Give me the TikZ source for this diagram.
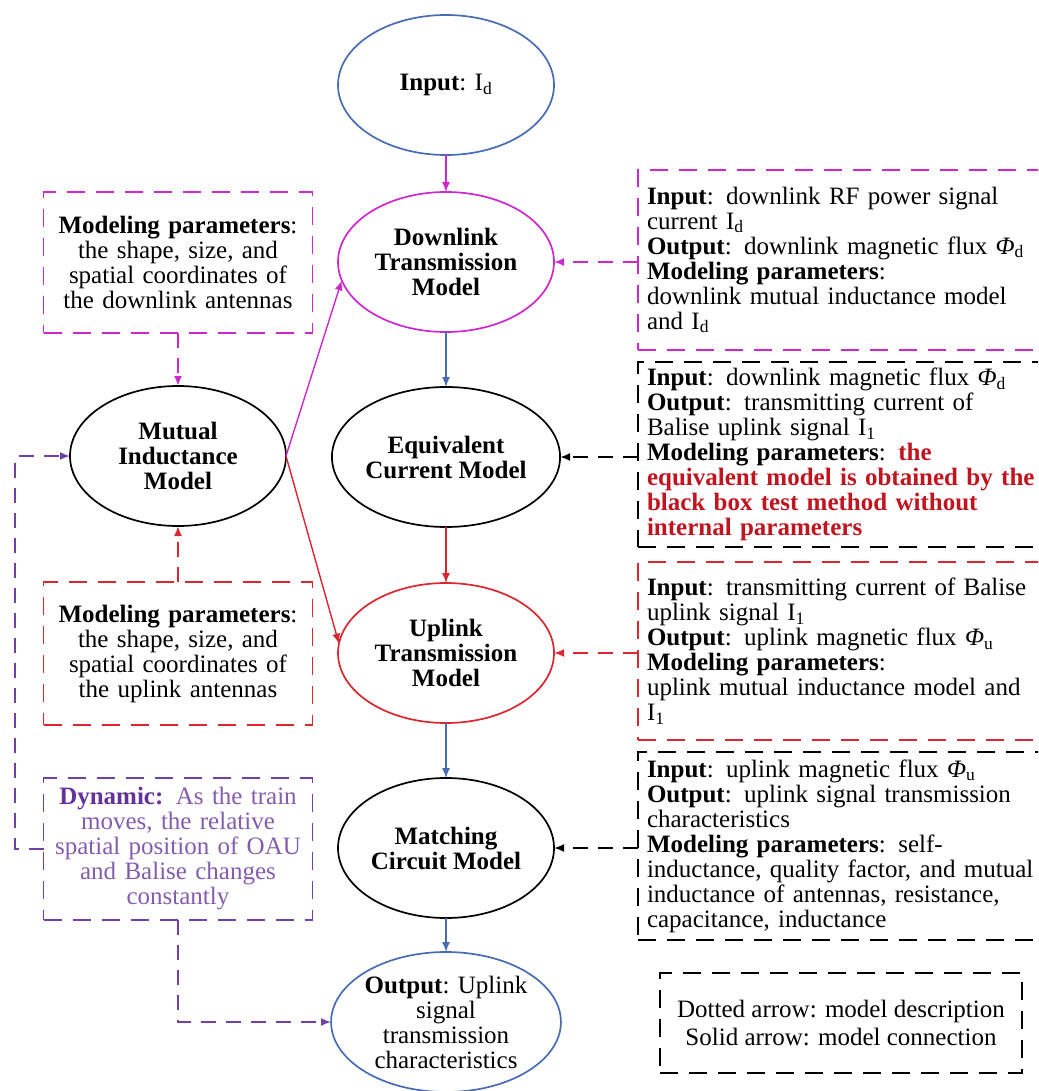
\documentclass[tikz,border=0pt]{standalone}
\usepackage{fontspec}
\setmainfont{Liberation Serif}
\usetikzlibrary{shapes.geometric,arrows.meta}

\definecolor{flowblue}{RGB}{72,108,180}
\definecolor{flowmag}{RGB}{205,40,205}
\definecolor{flowred}{RGB}{218,38,48}
\definecolor{flowpurple}{RGB}{112,64,165}
\definecolor{dynpurple}{RGB}{132,92,175}
\definecolor{dyndark}{RGB}{100,50,152}
\definecolor{textred}{RGB}{192,20,30}

\newcommand{\bodyfont}{\fontsize{25}{25}\selectfont}

\begin{document}
\begin{tikzpicture}[x=1pt,y=-1pt,
  model/.style={ellipse,draw=black,line width=1.7pt,minimum width=216pt,
    minimum height=140pt,inner sep=0pt,outer sep=0pt,align=center,
    font=\bodyfont\bfseries},
  iomodel/.style={model,draw=flowblue,font=\bodyfont},
  leftbox/.style={draw,line width=1.8pt,dash pattern=on 18pt off 11pt,
    minimum width=269pt,text width=262pt,align=center,inner sep=0pt,
    outer sep=0pt,font=\bodyfont},
  rightbox/.style={draw,line width=1.8pt,dash pattern=on 18pt off 11pt,
    anchor=west,text width=400pt,inner xsep=9pt,inner ysep=0pt,
    outer sep=0pt,align=left,font=\bodyfont},
  link/.style={line width=1.4pt,-{Latex[length=10pt,width=8pt]}},
  desc/.style={link,line width=1.8pt,dash pattern=on 15pt off 10pt},
]
\useasboundingbox (0,0) rectangle (1038,1091);
\clip (0,0) rectangle (1038,1091);

% main chain of models
\node[iomodel] (in) at (446,85) {\textbf{Input}: I\textsubscript{d}};
\node[model,draw=flowmag] (dl) at (446,262) {Downlink\\Transmission\\Model};
\node[model] (mi) at (178,456) {Mutual\\Inductance\\Model};
\node[model] (eq) at (446,457) {Equivalent\\Current Model};
\node[model,draw=flowred] (ul) at (446,653) {Uplink\\Transmission\\Model};
\node[model] (mc) at (446,848) {Matching\\Circuit Model};
\node[iomodel] (out) at (446,1022)
  {\textbf{Output}: Uplink\\signal\\transmission\\characteristics};

% parameter boxes on the left
\node[leftbox,draw=flowmag,minimum height=141pt] (dlp) at (178,262.5)
  {\textbf{Modeling parameters}:\\the shape, size, and\\spatial coordinates of\\the downlink antennas};
\node[leftbox,draw=flowred,minimum height=143pt] (ulp) at (178,653.5)
  {\textbf{Modeling parameters}:\\the shape, size, and\\spatial coordinates of\\the uplink antennas};
\node[leftbox,draw=flowpurple,minimum height=142pt,text=dynpurple] (dyn) at (178,849)
  {\textcolor{dyndark}{\textbf{Dynamic:}} As the train\\moves, the relative\\spatial position of OAU\\and Balise changes\\constantly};

% description boxes on the right
\node[rightbox,draw=flowmag,minimum height=180pt] (dld) at (638,260)
  {\textbf{Input}: downlink RF power signal\\
   current I\textsubscript{d}\\
   \textbf{Output}: downlink magnetic flux \textit{Φ}\textsubscript{d}\\
   \textbf{Modeling parameters}:\\
   downlink mutual inductance model\\
   and I\textsubscript{d}};
\node[rightbox,draw=black,minimum height=185pt] (eqd) at (638,454.5)
  {\textbf{Input}: downlink magnetic flux \textit{Φ}\textsubscript{d}\\
   \textbf{Output}: transmitting current of\\
   Balise uplink signal I\textsubscript{1}\\
   \textbf{Modeling parameters}: \textcolor{textred}{\textbf{the}}\\
   \textcolor{textred}{\textbf{equivalent model is obtained by the}}\\
   \textcolor{textred}{\textbf{black box test method without}}\\
   \textcolor{textred}{\textbf{internal parameters}}};
\node[rightbox,draw=flowred,minimum height=178pt] (uld) at (638,651)
  {\textbf{Input}: transmitting current of Balise\\
   uplink signal I\textsubscript{1}\\
   \textbf{Output}: uplink magnetic flux \textit{Φ}\textsubscript{u}\\
   \textbf{Modeling parameters}:\\
   uplink mutual inductance model and\\
   I\textsubscript{1}};
\node[rightbox,draw=black,minimum height=188pt] (mcd) at (638,846)
  {\textbf{Input}: uplink magnetic flux \textit{Φ}\textsubscript{u}\\
   \textbf{Output}: uplink signal transmission\\
   characteristics\\
   \textbf{Modeling parameters}: self-\\
   inductance, quality factor, and mutual\\
   inductance of antennas, resistance,\\
   capacitance, inductance};

% legend
\node[draw,line width=1.8pt,dash pattern=on 18pt off 11pt,minimum width=362pt,
  minimum height=100pt,align=center,font=\fontsize{25}{28}\selectfont] (key) at (841,1023)
  {Dotted arrow: model description\\Solid arrow: model connection};

% model connections
\draw[link,flowmag] (in) -- (dl);
\draw[link,flowblue] (dl) -- (eq);
\draw[link,flowred] (eq) -- (ul);
\draw[link,flowblue] (ul) -- (mc);
\draw[link,flowblue] (mc) -- (out);
\draw[link,flowmag] (mi.east) -- (dl.190);
\draw[link,flowred] (mi.east) -- (ul.175);

% model descriptions
\draw[desc,flowmag] (dlp) -- (mi);
\draw[desc,flowred] (ulp) -- (mi);
\draw[desc,flowmag] (dld.west |- dl.east) -- (dl.east);
\draw[desc,black] (eqd.west |- eq.east) -- (eq.east);
\draw[desc,flowred] (uld.west |- ul.east) -- (ul.east);
\draw[desc,black] (mcd.west |- mc.east) -- (mc.east);
\coordinate (bend) at (15,456);
\draw[desc,flowpurple] (dyn.west) -| (bend) -- (mi.west);
\draw[desc,flowpurple] (dyn.south) |- (out.west);
\end{tikzpicture}
\end{document}
